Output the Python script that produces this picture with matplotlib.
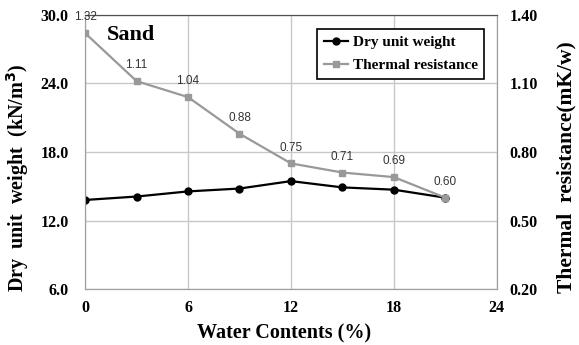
import matplotlib.pyplot as plt

# Water content (%) and measured values
water = [0, 3, 6, 9, 12, 15, 18, 21]
dry_unit_weight = [13.8, 14.1, 14.55, 14.8, 15.45, 14.9, 14.7, 14.0]
thermal_res = [1.32, 1.11, 1.04, 0.88, 0.75, 0.71, 0.69, 0.60]

plt.rcParams['font.family'] = ['Liberation Serif', 'DejaVu Serif']

fig = plt.figure(figsize=(5.79, 3.45), dpi=100)
ax = fig.add_axes([0.147, 0.162, 0.711, 0.795])
ax2 = ax.twinx()

# Left axis: dry unit weight
ax.plot(water, dry_unit_weight, color='black', marker='o', markersize=5,
        linewidth=1.6, label='Dry unit weight', zorder=3)
ax.set_xlim(0, 24)
ax.set_ylim(6, 30)
ax.set_xticks([0, 6, 12, 18, 24])
ax.set_yticks([6, 12, 18, 24, 30])
ax.set_yticklabels(['%.1f' % v for v in [6, 12, 18, 24, 30]])
ax.grid(color='#c8c8c8', linewidth=1)
ax.set_axisbelow(True)

# Right axis: thermal resistance
ax2.plot(water, thermal_res, color='#999999', marker='s', markersize=5,
         linewidth=1.6, label='Thermal resistance', zorder=3)
ax2.set_ylim(0.2, 1.4)
ax2.set_yticks([0.2, 0.5, 0.8, 1.1, 1.4])
ax2.set_yticklabels(['%.2f' % v for v in [0.2, 0.5, 0.8, 1.1, 1.4]])

for x, v in zip(water, thermal_res):
    ax2.annotate('%.2f' % v, (x, v), xytext=(0, 7), textcoords='offset points',
                 ha='center', va='bottom', fontsize=8.5, color='#333333',
                 family=['Liberation Sans Narrow', 'Liberation Sans'])

for a in (ax, ax2):
    for s in a.spines.values():
        s.set_color('#a0a0a0')
    a.spines['top'].set_color('#505050')
    a.tick_params(length=0, labelsize=11.5)
    for lbl in a.get_xticklabels() + a.get_yticklabels():
        lbl.set_fontweight('bold')
ax.tick_params(axis='y', pad=12)
ax.tick_params(axis='x', pad=8)
ax2.tick_params(axis='y', pad=9)

ax.set_xlabel('Water Contents (%)', fontsize=14.5, fontweight='bold')
ax.xaxis.set_label_coords(0.483, -0.125)
ax.set_ylabel('Dry  unit  weight  (kN/m$^\\mathbf{3}$)', fontsize=14.5,
              fontweight='bold')
ax.yaxis.set_label_coords(-0.132, 0.405)
ax2.set_ylabel('Thermal  resistance(mK/w)', fontsize=15.5, fontweight='bold',
               rotation=90)
ax2.yaxis.set_label_coords(1.146, 0.445)

ax.text(1.28, 28.2, 'Sand', fontsize=16, fontweight='bold', va='center')

h1, l1 = ax.get_legend_handles_labels()
h2, l2 = ax2.get_legend_handles_labels()
leg = ax2.legend(h1 + h2, l1 + l2, loc='upper right', bbox_to_anchor=(0.97, 0.95),
                 fancybox=False, edgecolor='black', framealpha=1,
                 prop={'weight': 'bold', 'size': 11}, handlelength=1.6,
                 handletextpad=0.3, borderpad=0.45, labelspacing=0.6,
                 borderaxespad=0)
leg.get_frame().set_linewidth(1.2)

fig.savefig('out.png', dpi=100)
